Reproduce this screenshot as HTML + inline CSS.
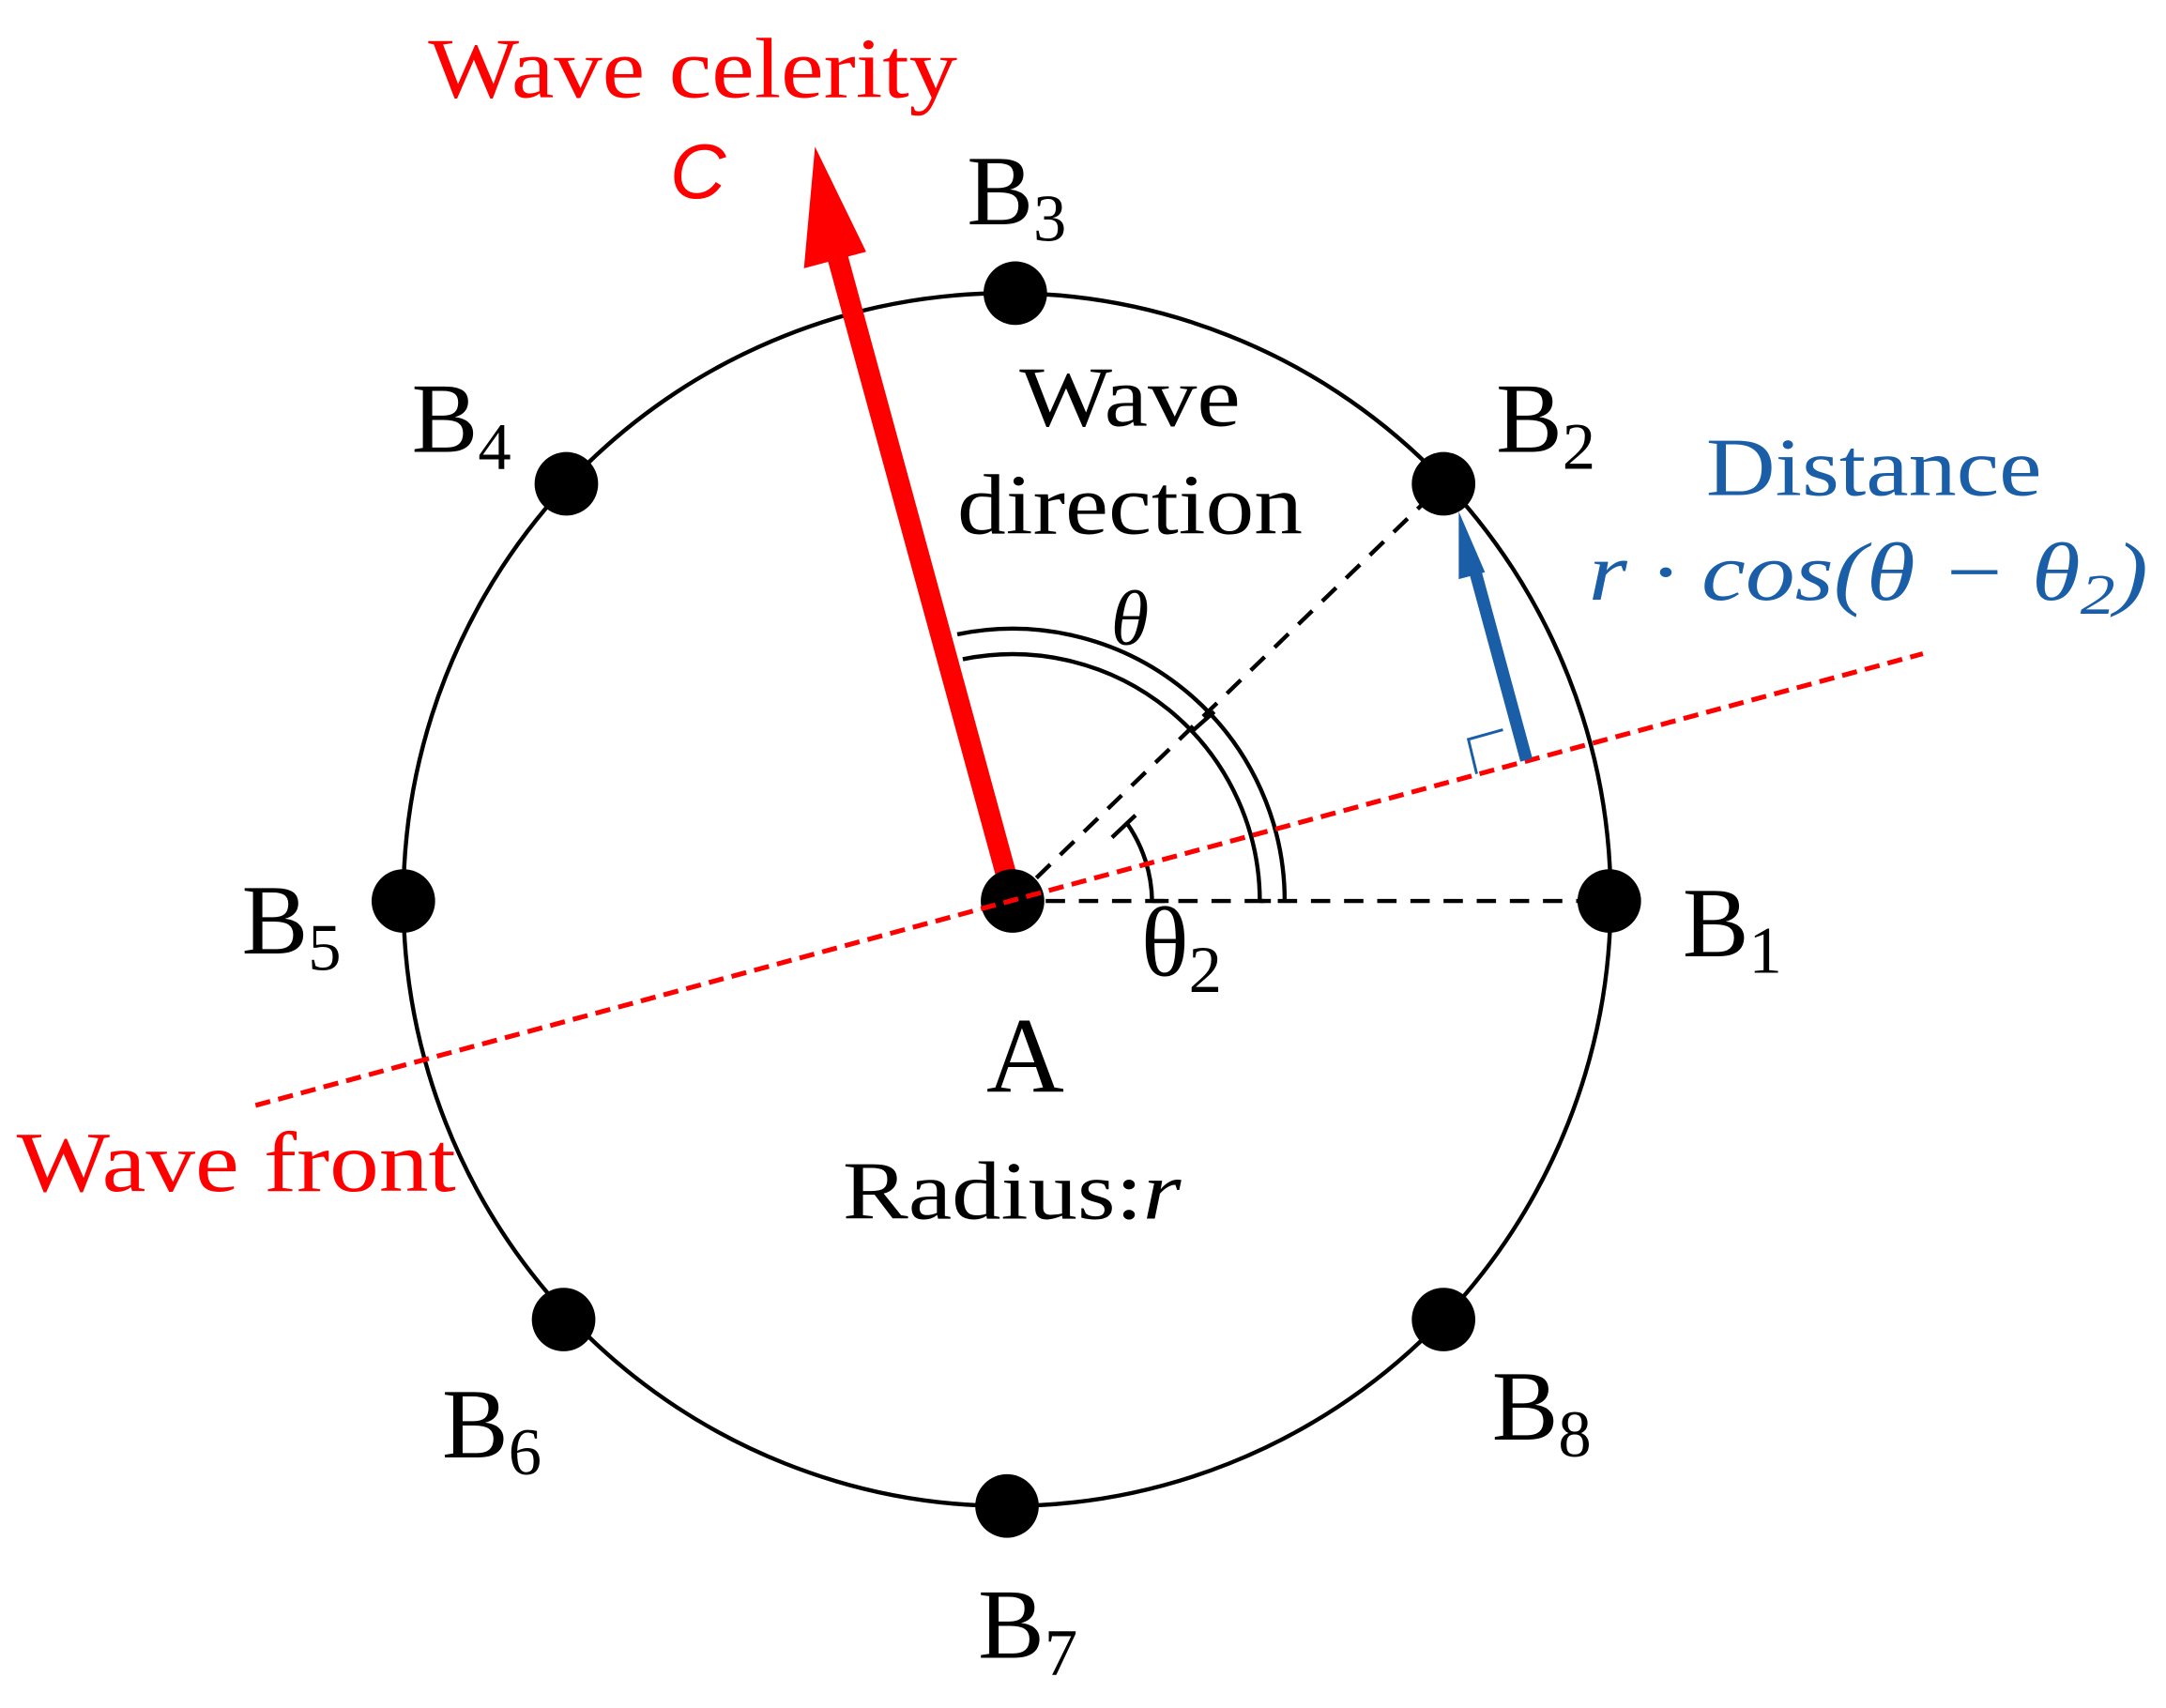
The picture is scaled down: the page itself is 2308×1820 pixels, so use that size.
<!DOCTYPE html>
<html><head><meta charset="utf-8"><style>html,body{margin:0;padding:0;background:#fff}svg{display:block}</style></head>
<body>
<svg width="2308" height="1820" viewBox="0 0 1568 1236" xmlns="http://www.w3.org/2000/svg" font-family="'Liberation Serif', serif">
<rect width="1568" height="1236" fill="#fff"/>
<ellipse cx="729" cy="651" rx="437" ry="439" fill="none" stroke="#000" stroke-width="3"/>
<line x1="733" y1="652" x2="1165" y2="652" stroke="#000" stroke-width="3" stroke-dasharray="14,10"/>
<line x1="733" y1="652" x2="1045" y2="350" stroke="#000" stroke-width="3" stroke-dasharray="14,10"/>
<path d="M912,652 A179,179 0 0 0 697,477" fill="none" stroke="#000" stroke-width="3"/>
<path d="M930,652 A197,197 0 0 0 693,459" fill="none" stroke="#000" stroke-width="3"/>
<line x1="912" y1="652" x2="920" y2="652" stroke="#000" stroke-width="3"/>
<line x1="862" y1="530" x2="879" y2="515" stroke="#000" stroke-width="3"/>
<line x1="834" y1="652" x2="846" y2="652" stroke="#000" stroke-width="3"/>
<path d="M834,652 A101,101 0 0 0 816,596" fill="none" stroke="#000" stroke-width="3"/>
<line x1="805" y1="606" x2="822" y2="590" stroke="#000" stroke-width="3"/>
<line x1="733" y1="650" x2="602" y2="170" stroke="#f00" stroke-width="15"/>
<polygon points="590,106 627,182 582,194" fill="#f00"/>
<g fill="#000">
<circle cx="733" cy="652" r="23"/>
<circle cx="1165" cy="652" r="23"/>
<circle cx="292" cy="652" r="23"/>
<circle cx="735" cy="212" r="23"/>
<circle cx="729" cy="1090" r="23"/>
<circle cx="1045" cy="350" r="23"/>
<circle cx="410" cy="350" r="23"/>
<circle cx="408" cy="955" r="23"/>
<circle cx="1045" cy="955" r="23"/>
</g>
<line x1="185" y1="800" x2="1392" y2="473" stroke="#f00" stroke-width="3.5" stroke-dasharray="11,6"/>
<line x1="1105" y1="550" x2="1067" y2="410" stroke="#1a5ea8" stroke-width="9"/>
<polygon points="1056,370 1075,414 1056,419" fill="#1a5ea8"/>
<polyline points="1069,560 1063,535 1088,528" fill="none" stroke="#1a5ea8" stroke-width="2"/>
<g font-size="72" fill="#000">
<text x="1218" y="692">B<tspan font-size="48" dy="12">1</tspan></text>
<text x="1083" y="327">B<tspan font-size="48" dy="12">2</tspan></text>
<text x="700" y="162">B<tspan font-size="48" dy="12">3</tspan></text>
<text x="298" y="327">B<tspan font-size="48" dy="12">4</tspan></text>
<text x="175" y="690">B<tspan font-size="48" dy="12">5</tspan></text>
<text x="320" y="1055">B<tspan font-size="48" dy="12">6</tspan></text>
<text x="708" y="1200">B<tspan font-size="48" dy="12">7</tspan></text>
<text x="1080" y="1042">B<tspan font-size="48" dy="12">8</tspan></text>
<text x="714" y="790" font-size="78">A</text>
<text x="826" y="706">θ<tspan font-size="48" dy="12">2</tspan></text>
<text x="818" y="308" text-anchor="middle" font-size="62" textLength="160" lengthAdjust="spacingAndGlyphs">Wave</text>
<text x="818" y="386" text-anchor="middle" font-size="62" textLength="250" lengthAdjust="spacingAndGlyphs">direction</text>
<text x="818" y="466" text-anchor="middle" font-size="56" font-style="italic">θ</text>
<text x="610" y="882" font-size="60" textLength="245" lengthAdjust="spacingAndGlyphs">Radius:<tspan font-style="italic">r</tspan></text>
</g>
<g fill="#f00">
<text x="310" y="70" font-size="62" textLength="383" lengthAdjust="spacingAndGlyphs">Wave celerity</text>
<text x="485" y="143" font-size="56" font-style="italic" font-family="'Liberation Sans', sans-serif">C</text>
<text x="12" y="862" font-size="62" textLength="318" lengthAdjust="spacingAndGlyphs">Wave front</text>
</g>
<g fill="#1a5ea8">
<text x="1235" y="358" font-size="60" textLength="243" lengthAdjust="spacingAndGlyphs">Distance</text>
<text x="1150" y="434" font-size="60" font-style="italic" textLength="405" lengthAdjust="spacingAndGlyphs">r · cos(θ − θ<tspan font-size="42" dy="10">2</tspan><tspan dy="-10">)</tspan></text>
</g>
</svg>
</body></html>
